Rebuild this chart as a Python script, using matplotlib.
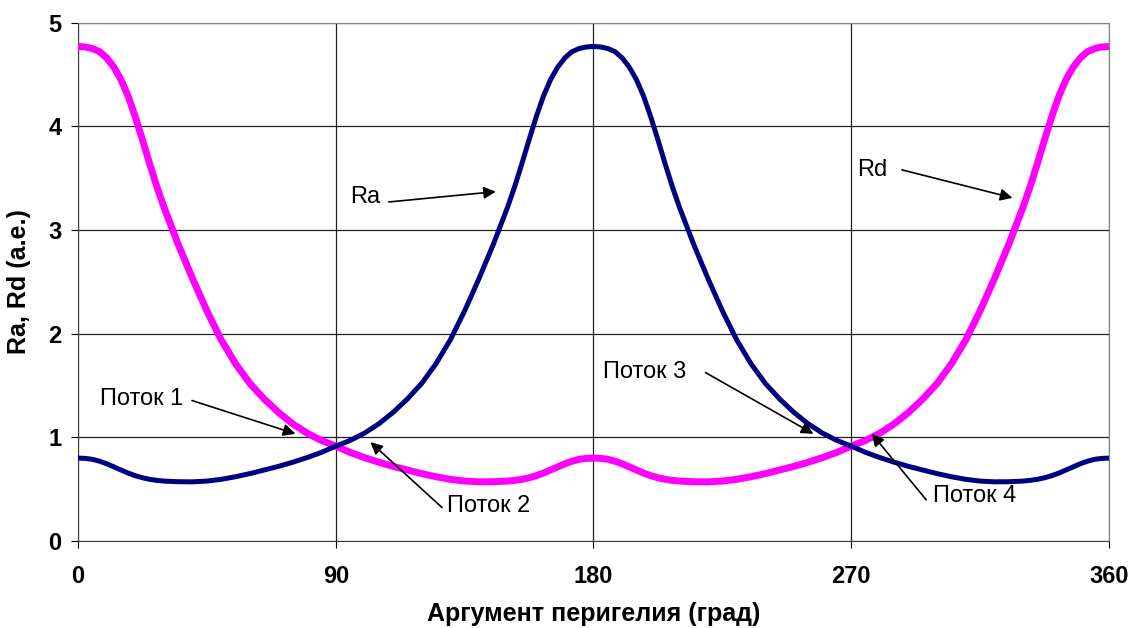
import matplotlib
matplotlib.use("Agg")
import matplotlib.pyplot as plt

plt.rcParams['font.family'] = ['Liberation Sans', 'DejaVu Sans']

# -------- DATA --------
omega = [0, 2.5, 5, 7.5, 10, 12.5, 15, 17.5, 20, 22.5, 25, 27.5, 30,
         35, 40, 45, 50, 55, 60, 65, 70, 75, 80, 85, 90, 95, 100,
         105, 110, 115, 120, 125, 130, 135, 140, 145,
         150, 152.5, 155, 157.5, 160, 162.5, 165, 167.5, 170, 172.5, 175, 177.5,
         180, 182.5, 185, 187.5, 190, 192.5, 195, 197.5, 200, 202.5, 205, 207.5, 210,
         215, 220, 225, 230, 235, 240, 245, 250, 255, 260, 265, 270, 275,
         280, 285, 290, 295, 300, 305, 310, 315, 320, 325,
         330, 332.5, 335, 337.5, 340, 342.5, 345, 347.5, 350, 352.5, 355, 357.5, 360]

ra = [0.80, 0.797, 0.788, 0.77, 0.745, 0.715, 0.685, 0.655, 0.63, 0.61, 0.595, 0.585, 0.578,
      0.572, 0.571, 0.578, 0.595, 0.62, 0.65, 0.685, 0.72, 0.76, 0.805, 0.855, 0.915, 0.97, 1.04,
      1.13, 1.24, 1.37, 1.52, 1.71, 1.94, 2.22, 2.53, 2.86,
      3.22, 3.42, 3.64, 3.87, 4.09, 4.29, 4.45, 4.57, 4.66, 4.72, 4.75, 4.765,
      4.77, 4.765, 4.75, 4.72, 4.66, 4.57, 4.45, 4.29, 4.09, 3.87, 3.64, 3.42, 3.22,
      2.86, 2.53, 2.22, 1.94, 1.71, 1.52, 1.37, 1.24, 1.13, 1.04, 0.97, 0.915, 0.855,
      0.805, 0.76, 0.72, 0.685, 0.65, 0.62, 0.595, 0.578, 0.571, 0.572,
      0.578, 0.585, 0.595, 0.61, 0.63, 0.655, 0.685, 0.715, 0.745, 0.77, 0.788, 0.797, 0.80]

rd = [4.77, 4.765, 4.75, 4.72, 4.66, 4.57, 4.45, 4.29, 4.09, 3.87, 3.64, 3.42, 3.22,
      2.86, 2.53, 2.22, 1.94, 1.71, 1.52, 1.37, 1.24, 1.13, 1.04, 0.97, 0.915, 0.855, 0.805,
      0.76, 0.72, 0.685, 0.65, 0.62, 0.595, 0.578, 0.571, 0.572,
      0.578, 0.585, 0.595, 0.61, 0.63, 0.655, 0.685, 0.715, 0.745, 0.77, 0.788, 0.797,
      0.80, 0.797, 0.788, 0.77, 0.745, 0.715, 0.685, 0.655, 0.63, 0.61, 0.595, 0.585, 0.578,
      0.572, 0.571, 0.578, 0.595, 0.62, 0.65, 0.685, 0.72, 0.76, 0.805, 0.855, 0.915, 0.97,
      1.04, 1.13, 1.24, 1.37, 1.52, 1.71, 1.94, 2.22, 2.53, 2.86,
      3.22, 3.42, 3.64, 3.87, 4.09, 4.29, 4.45, 4.57, 4.66, 4.72, 4.75, 4.765, 4.77]

x_ticks = [0, 90, 180, 270, 360]
y_ticks = [0, 1, 2, 3, 4, 5]

# label, text left/center, arrow start, arrow tip
notes = [
    ("Ra", (95.1, 3.32), (108.5, 3.27), (145.9, 3.37)),
    ("Rd", (272.1, 3.58), (287.7, 3.58), (326.3, 3.31)),
    ("Поток 1", (7.8, 1.374), (39.8, 1.355), (75.9, 1.034)),
    ("Поток 2", (128.8, 0.34), (127.1, 0.323), (102.1, 0.954)),
    ("Поток 3", (183.4, 1.635), (219.1, 1.625), (256.8, 1.034)),
    ("Поток 4", (298.5, 0.436), (296.2, 0.397), (277.2, 1.034)),
]

# -------- PLOT --------
fig = plt.figure(figsize=(11.31, 6.28), dpi=100)
ax = fig.add_axes([0.069, 0.1385, 0.9115, 0.8255])

ax.plot(omega, rd, color='#FF00FF', lw=5.0, solid_capstyle='butt', zorder=3)
ax.plot(omega, ra, color='#000080', lw=3.6, solid_capstyle='butt', zorder=4)

ax.set_xlim(0, 360)
ax.set_ylim(0, 5)
ax.set_xticks(x_ticks)
ax.set_yticks(y_ticks)
ax.grid(True, color='#202020', lw=0.9)
ax.set_axisbelow(True)

for s in ['top', 'right']:
    ax.spines[s].set_color('#808080')
for s in ['left', 'bottom']:
    ax.spines[s].set_color('#404040')

ax.tick_params(axis='x', direction='out', length=5, pad=12, labelsize=17)
ax.tick_params(axis='y', direction='out', length=5, pad=7, labelsize=17)
for lab in ax.get_xticklabels() + ax.get_yticklabels():
    lab.set_fontweight('bold')

ax.set_xlabel("Аргумент перигелия (град)", fontsize=18, fontweight='bold', labelpad=10)
ax.set_ylabel("Ra, Rd (а.е.)", fontsize=18, fontweight='bold', labelpad=12)

for text, (tx, ty), (sx, sy), (hx, hy) in notes:
    ax.text(tx, ty, text, fontsize=17, ha='left', va='center', zorder=5)
    ax.annotate('', xy=(hx, hy), xytext=(sx, sy), zorder=5,
                arrowprops=dict(arrowstyle='-|>', color='black', lw=1.2,
                                mutation_scale=18, shrinkA=0, shrinkB=0))

fig.savefig("out.png", dpi=100)
